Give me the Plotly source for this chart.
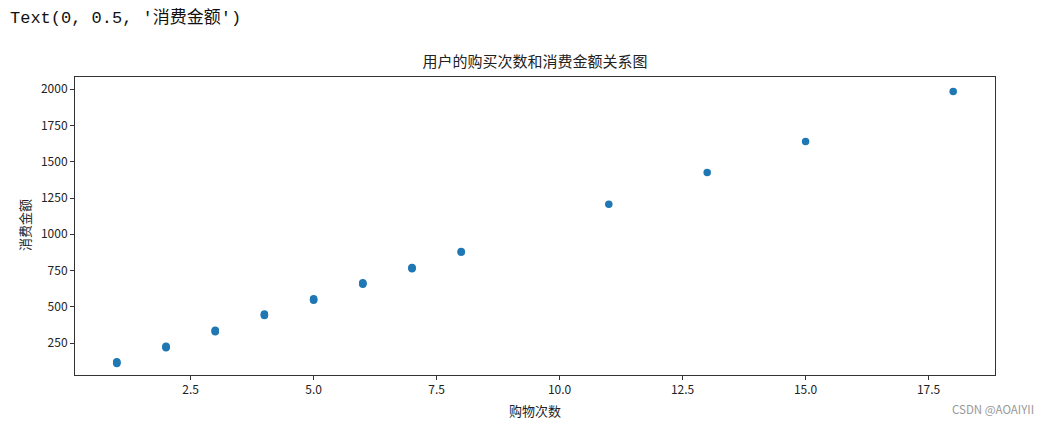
import plotly.graph_objects as go

# Data
purchase_counts = [1, 1, 1, 2, 2, 2, 3, 3, 3, 4, 4, 4, 5, 5, 5, 6, 6, 6, 7, 7, 7, 8, 8, 11, 13, 15, 18]
amounts = [110, 116, 121, 218, 223, 228, 328, 334, 339, 440, 445, 450, 545, 550, 555,
           656, 661, 666, 762, 767, 771, 876, 881, 1207, 1425, 1640, 1984]

x_tickvals = [2.5, 5.0, 7.5, 10.0, 12.5, 15.0, 17.5]
x_ticktext = ["2.5", "5.0", "7.5", "10.0", "12.5", "15.0", "17.5"]
y_tickvals = [250, 500, 750, 1000, 1250, 1500, 1750, 2000]
y_ticktext = ["250", "500", "750", "1000", "1250", "1500", "1750", "2000"]

title_text = "用户的购买次数和消费金额关系图"
x_label = "购物次数"
y_label = "消费金额"
output_text = "Text(0, 0.5, '消费金额')"
watermark = "CSDN @AOAIYII"

FONT = "Noto Sans CJK SC, DejaVu Sans, sans-serif"

# figure geometry (page has an 8px body margin)
W, H = 1037, 411
ML, MR, MT, MB = 67, 50, 69, 44
PW, PH = W - ML - MR, H - MT - MB


def px_x(x):
    return (x - ML) / PW


def px_y(y):
    return 1 - (y - MT) / PH


fig = go.Figure()
fig.add_trace(go.Scatter(
    x=purchase_counts, y=amounts, mode="markers",
    marker=dict(color="#1f77b4", size=7.5, line=dict(width=0)),
    showlegend=False, hoverinfo="x+y",
))

axis_common = dict(
    showgrid=False, zeroline=False, showline=True, mirror=True,
    linecolor="#333333", linewidth=1, ticks="outside", ticklen=4,
    tickcolor="#333333", tickwidth=1,
    tickfont=dict(family=FONT, size=12, color="#222222"),
)

fig.update_layout(
    width=W, height=H,
    paper_bgcolor="white", plot_bgcolor="white",
    margin=dict(l=ML, r=MR, t=MT, b=MB),
    title=dict(text=title_text, x=(ML + ML + PW) / 2 / W, xanchor="center",
               y=1 - 54 / H, yanchor="middle",
               font=dict(family=FONT, size=15, color="#222222")),
    xaxis=dict(range=[0.15, 18.85], tickvals=x_tickvals, ticktext=x_ticktext,
               **axis_common),
    yaxis=dict(range=[30, 2084], tickvals=y_tickvals, ticktext=y_ticktext,
               **axis_common),
    annotations=[
        dict(text=x_label, xref="paper", yref="paper",
             x=px_x(527), y=px_y(402), xanchor="center", yanchor="middle",
             showarrow=False, font=dict(family=FONT, size=13, color="#222222")),
        dict(text=y_label, xref="paper", yref="paper", textangle=-90,
             x=px_x(17), y=px_y(217), xanchor="center", yanchor="middle",
             showarrow=False, font=dict(family=FONT, size=13, color="#222222")),
        dict(text=output_text, xref="paper", yref="paper",
             x=px_x(0), y=px_y(10), xanchor="left", yanchor="middle",
             showarrow=False,
             font=dict(family="Liberation Mono, Noto Sans CJK SC, monospace", size=17, color="#111111")),
        dict(text=watermark, xref="paper", yref="paper",
             x=px_x(1028), y=px_y(401), xanchor="right", yanchor="middle",
             showarrow=False,
             font=dict(family=FONT, size=11.5, color="#999999")),
    ],
)

fig.write_html("out.html")
